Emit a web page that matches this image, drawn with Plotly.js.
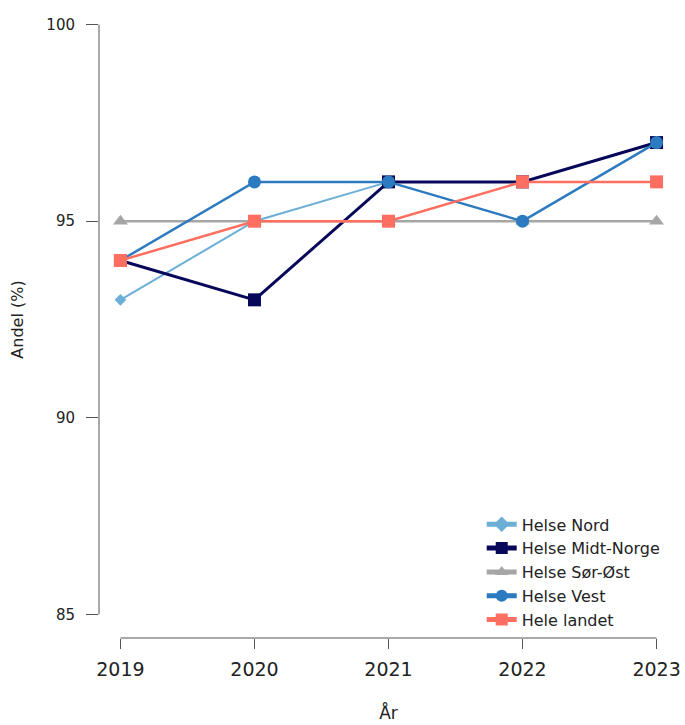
<!DOCTYPE html>
<html>
<head>
<meta charset="utf-8">
<script src="https://cdn.plot.ly/plotly-3.0.1.min.js"></script>
<style>html,body{margin:0;padding:0;background:#fff;}#chart{width:685px;height:725px;}</style>
</head>
<body>
<div id="chart"></div>
<script>
var years = [2019, 2020, 2021, 2022, 2023];
var seriesNames = ["Helse Nord", "Helse Midt-Norge", "Helse Sør-Øst", "Helse Vest", "Hele landet"];
var helseNord = [93, 95, 96, 96, 97];
var helseMidtNorge = [94, 93, 96, 96, 97];
var helseSorOst = [95, 95, 95, 95, 95];
var helseVest = [94, 96, 96, 95, 97];
var heleLandet = [94, 95, 95, 96, 96];
var yTicks = [85, 90, 95, 100];
var xTicks = years;

var FONT = "DejaVu Sans, Liberation Sans, Arial, sans-serif";
var styles = [
  {color: "#6BAED6", symbol: "diamond", size: 9, width: 2},
  {color: "#08085A", symbol: "square", size: 13, width: 3},
  {color: "#A6A6A6", symbol: "triangle-up", size: 13, width: 2.5},
  {color: "#2C7BC0", symbol: "circle", size: 13, width: 2.5},
  {color: "#FF6F61", symbol: "square", size: 13, width: 2.5}
];
var values = [helseNord, helseMidtNorge, helseSorOst, helseVest, heleLandet];
var traces = values.map(function (v, i) {
  return {
    x: years, y: v, name: seriesNames[i], type: "scatter", mode: "lines+markers",
    legendgroup: "g" + i,
    line: {color: styles[i].color, width: styles[i].width},
    marker: {color: styles[i].color, symbol: styles[i].symbol, size: styles[i].size}
  };
});

var layout = {
  width: 685, height: 725,
  paper_bgcolor: "#fff", plot_bgcolor: "#fff",
  margin: {l: 99, r: 6.5, t: 1.4, b: 87.4},
  font: {family: FONT, color: "#222"},
  showlegend: true,
  legend: {
    x: 0.661, y: 0.205, xanchor: "left", yanchor: "top",
    font: {family: FONT, size: 16, color: "#222"},
    bgcolor: "rgba(0,0,0,0)", tracegroupgap: 0, itemsizing: "constant"
  },
  xaxis: {
    range: [2018.84, 2023.16], tickvals: xTicks, ticktext: xTicks.map(String),
    showgrid: false, zeroline: false, showline: false,
    ticks: "outside", ticklen: 10, tickcolor: "#555", tickwidth: 1,
    ticklabelstandoff: 4,
    tickfont: {family: FONT, size: 19, color: "#222"},
    title: {text: "År", font: {family: FONT, size: 17, color: "#222"}, standoff: 28},
    automargin: false
  },
  yaxis: {
    range: [84.4, 100.6], tickvals: yTicks, ticktext: yTicks.map(String),
    showgrid: false, zeroline: false, showline: false,
    ticks: "outside", ticklen: 12, tickcolor: "#555", tickwidth: 1,
    ticklabelstandoff: 8,
    tickfont: {family: FONT, size: 15, color: "#222"},
    title: {text: "Andel (%)", font: {family: FONT, size: 16, color: "#222"}, standoff: 18},
    automargin: false
  },
  shapes: [
    {type: "line", xref: "x", yref: "paper", x0: xTicks[0], x1: xTicks[xTicks.length - 1], y0: 0, y1: 0,
     line: {color: "#555", width: 1}},
    {type: "line", xref: "paper", yref: "y", x0: 0, x1: 0, y0: yTicks[0], y1: yTicks[yTicks.length - 1],
     line: {color: "#555", width: 1}}
  ]
};

Plotly.newPlot("chart", traces, layout, {displayModeBar: false, staticPlot: true});
</script>
</body>
</html>
